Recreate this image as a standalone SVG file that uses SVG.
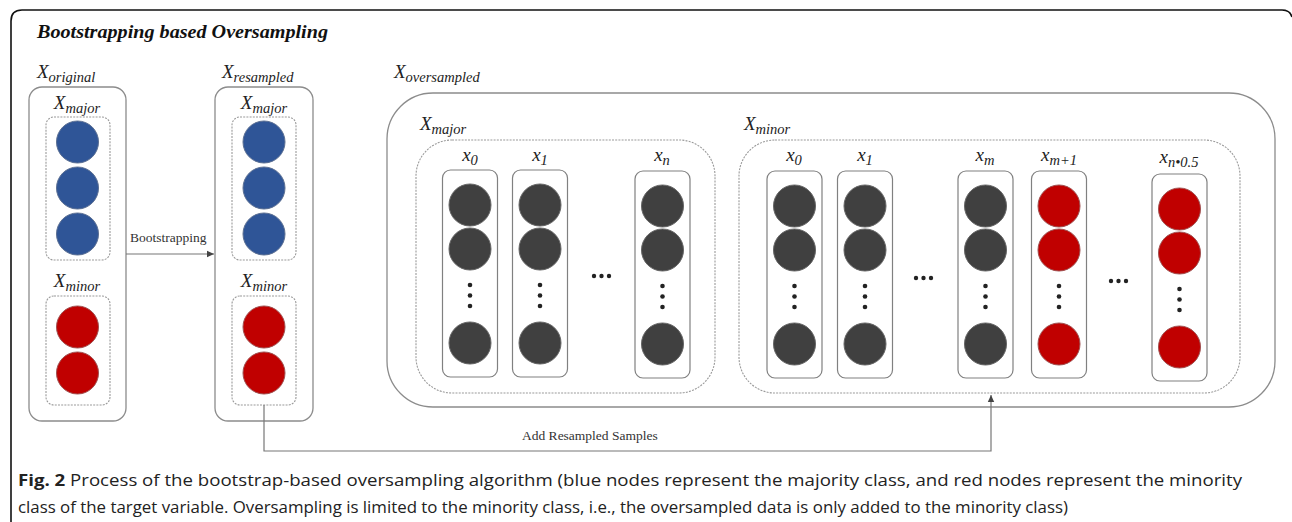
<svg xmlns="http://www.w3.org/2000/svg" width="1292" height="522" viewBox="0 0 1292 522">
  <style>
    .frame { fill: none; stroke: #111; stroke-width: 1.6; }
    .box { fill: #fff; stroke: #8c8c8c; stroke-width: 1.3; }
    .dash { fill: none; stroke: #9a9a9a; stroke-width: 1.1; stroke-dasharray: 2 1.2; }
    .col { fill: #fff; stroke: #808080; stroke-width: 1.2; }
    .blue { fill: #2f5597; stroke: #5b6f93; stroke-width: 1; }
    .red { fill: #c00000; stroke: #a05050; stroke-width: 1; }
    .dark { fill: #404040; stroke: #666; stroke-width: 1; }
    .dot { fill: #222; }
    .title { font-family: "Liberation Serif", "DejaVu Serif", serif; font-weight: bold; font-style: italic; font-size: 18px; fill: #111; }
    .math { font-family: "Liberation Serif", "DejaVu Serif", serif; font-style: italic; font-size: 19px; fill: #222; }
    .sub { font-size: 14.5px; }
    .lbl { font-family: "Liberation Serif", "DejaVu Serif", serif; font-size: 13.5px; fill: #333; }
    .cap { font-family: "Open Sans", "Liberation Sans", sans-serif; font-size: 16px; fill: #222; }
    .conn { fill: none; stroke: #777; stroke-width: 1.2; }
  </style>
  <defs>
    <marker id="arrow" markerWidth="8" markerHeight="8" refX="7" refY="4" orient="auto" markerUnits="userSpaceOnUse">
      <path d="M0,0.8 L7,4 L0,7.2 Z" fill="#444"/>
    </marker>
    <!-- one sample column: two nodes, a vertical ellipsis, one node -->
    <g id="colDark">
      <rect class="col" x="-27.5" y="0" width="55" height="207" rx="8"/>
      <circle class="dark" cx="0" cy="35" r="21"/>
      <circle class="dark" cx="0" cy="79" r="21"/>
      <circle class="dot" cx="0" cy="115" r="2.3"/>
      <circle class="dot" cx="0" cy="125.5" r="2.3"/>
      <circle class="dot" cx="0" cy="136" r="2.3"/>
      <circle class="dark" cx="0" cy="173" r="21"/>
    </g>
    <g id="colRed">
      <rect class="col" x="-27.5" y="0" width="55" height="207" rx="8"/>
      <circle class="red" cx="0" cy="35" r="21"/>
      <circle class="red" cx="0" cy="79" r="21"/>
      <circle class="dot" cx="0" cy="115" r="2.3"/>
      <circle class="dot" cx="0" cy="125.5" r="2.3"/>
      <circle class="dot" cx="0" cy="136" r="2.3"/>
      <circle class="red" cx="0" cy="173" r="21"/>
    </g>
    <g id="hdots">
      <circle class="dot" cx="0" cy="0" r="2.2"/>
      <circle class="dot" cx="7.5" cy="0" r="2.2"/>
      <circle class="dot" cx="15" cy="0" r="2.2"/>
    </g>
  </defs>

  <rect width="1292" height="522" fill="#fff"/>

  <!-- figure frame -->
  <path class="frame" d="M11,522 V21 Q11,10 22,10 H1282 Q1290,10 1292,17"/>

  <text class="title" x="37" y="38" textLength="291" lengthAdjust="spacingAndGlyphs">Bootstrapping based Oversampling</text>

  <!-- original data -->
  <g id="original">
    <text class="math" x="37" y="78">X<tspan class="sub" dy="4">original</tspan></text>
    <rect class="box" x="29" y="87" width="97" height="334" rx="13"/>
    <text class="math" x="77" y="109" text-anchor="middle">X<tspan class="sub" dy="4">major</tspan></text>
    <rect class="dash" x="46" y="117" width="64" height="143" rx="8"/>
    <circle class="blue" cx="77.5" cy="142" r="21"/>
    <circle class="blue" cx="77.5" cy="188" r="21"/>
    <circle class="blue" cx="77.5" cy="234" r="21"/>
    <text class="math" x="77" y="287" text-anchor="middle">X<tspan class="sub" dy="4">minor</tspan></text>
    <rect class="dash" x="46" y="296" width="64" height="109" rx="8"/>
    <circle class="red" cx="77.5" cy="327" r="21"/>
    <circle class="red" cx="77.5" cy="373" r="21"/>
  </g>

  <!-- resampled data -->
  <g id="resampled">
    <text class="math" x="222" y="78">X<tspan class="sub" dy="4">resampled</tspan></text>
    <rect class="box" x="215" y="87" width="98" height="334" rx="13"/>
    <text class="math" x="264" y="109" text-anchor="middle">X<tspan class="sub" dy="4">major</tspan></text>
    <rect class="dash" x="232" y="117" width="64" height="143" rx="8"/>
    <circle class="blue" cx="264" cy="142" r="21"/>
    <circle class="blue" cx="264" cy="188" r="21"/>
    <circle class="blue" cx="264" cy="234" r="21"/>
    <text class="math" x="264" y="287" text-anchor="middle">X<tspan class="sub" dy="4">minor</tspan></text>
    <rect class="dash" x="232" y="296" width="64" height="109" rx="8"/>
    <circle class="red" cx="264" cy="327" r="21"/>
    <circle class="red" cx="264" cy="373" r="21"/>
  </g>

  <!-- oversampled data -->
  <g id="oversampled">
    <text class="math" x="394" y="78">X<tspan class="sub" dy="4">oversampled</tspan></text>
    <rect class="box" x="387" y="93" width="888" height="314" rx="46"/>
  </g>

  <g id="over-major">
    <text class="math" x="420" y="130">X<tspan class="sub" dy="4">major</tspan></text>
    <rect class="dash" x="416" y="140" width="299" height="253" rx="36"/>
    <text class="math" x="470" y="161" text-anchor="middle">x<tspan class="sub" dy="4">0</tspan></text>
    <use href="#colDark" x="470" y="170"/>
    <text class="math" x="540" y="161" text-anchor="middle">x<tspan class="sub" dy="4">1</tspan></text>
    <use href="#colDark" x="540" y="170"/>
    <use href="#hdots" x="594" y="276"/>
    <text class="math" x="662" y="161" text-anchor="middle">x<tspan class="sub" dy="4">n</tspan></text>
    <use href="#colDark" x="662.5" y="171"/>
  </g>

  <g id="over-minor">
    <text class="math" x="744" y="130">X<tspan class="sub" dy="4">minor</tspan></text>
    <rect class="dash" x="739" y="140" width="501" height="253" rx="36"/>
    <text class="math" x="794" y="161" text-anchor="middle">x<tspan class="sub" dy="4">0</tspan></text>
    <use href="#colDark" x="794.5" y="171"/>
    <text class="math" x="865" y="161" text-anchor="middle">x<tspan class="sub" dy="4">1</tspan></text>
    <use href="#colDark" x="865" y="171"/>
    <use href="#hdots" x="916" y="278"/>
    <text class="math" x="985" y="161" text-anchor="middle">x<tspan class="sub" dy="4">m</tspan></text>
    <use href="#colDark" x="985.5" y="171"/>
    <text class="math" x="1059" y="161" text-anchor="middle">x<tspan class="sub" dy="4">m+1</tspan></text>
    <use href="#colRed" x="1059" y="171"/>
    <use href="#hdots" x="1111" y="281"/>
    <text class="math" x="1179" y="163" text-anchor="middle">x<tspan class="sub" dy="4">n•0.5</tspan></text>
    <use href="#colRed" x="1179.5" y="174"/>
  </g>

  <!-- connectors -->
  <g id="connectors">
    <line class="conn" x1="126" y1="254" x2="214" y2="254" marker-end="url(#arrow)"/>
    <path class="conn" d="M264,405 V451 H991 V395" marker-end="url(#arrow)"/>
    <text class="lbl" x="130" y="242">Bootstrapping</text>
    <text class="lbl" x="522" y="440">Add Resampled Samples</text>
  </g>

  <!-- caption -->
  <text class="cap" x="18" y="486" textLength="1224" lengthAdjust="spacingAndGlyphs"><tspan font-weight="bold">Fig. 2</tspan> Process of the bootstrap-based oversampling algorithm (blue nodes represent the majority class, and red nodes represent the minority</text>
  <text class="cap" x="18" y="513" textLength="1050" lengthAdjust="spacingAndGlyphs">class of the target variable. Oversampling is limited to the minority class, i.e., the oversampled data is only added to the minority class)</text>
</svg>
